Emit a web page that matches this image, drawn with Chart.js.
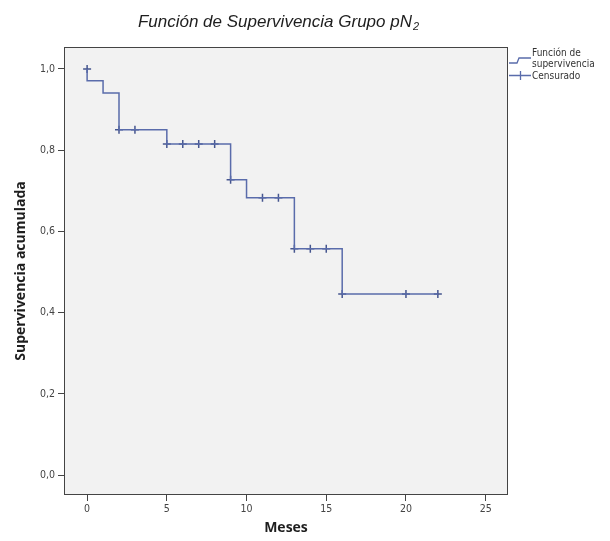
<!DOCTYPE html>
<html lang="es">
<head>
  <meta charset="UTF-8" />
  <title>Función de Supervivencia Grupo pN2</title>
  <script src="https://cdn.jsdelivr.net/npm/chart.js"></script>
  <style>
    html, body { margin: 0; padding: 0; background: #fff; }
    canvas { display: block; }
  </style>
</head>
<body>
  <canvas id="kmChart" width="610" height="541"></canvas>

  <script>
    // Kaplan-Meier step values (time, cumulative survival after the event)
    const stepTimes = [0, 0, 1, 2, 5, 9, 10, 13, 16, 22];
    const stepSurvival = [1.0, 0.971, 0.941, 0.85, 0.815, 0.727, 0.683, 0.557, 0.446, 0.446];

    // censored observations
    const censorTimes = [0, 2, 3, 5, 6, 7, 8, 9, 11, 12, 13, 14, 15, 16, 20, 22];
    const censorSurvival = [1.0, 0.85, 0.85, 0.815, 0.815, 0.815, 0.815, 0.727, 0.683, 0.683, 0.557, 0.557, 0.557, 0.446, 0.446, 0.446];

    const xTicks = [0, 5, 10, 15, 20, 25];
    const yTicks = [0, 0.2, 0.4, 0.6, 0.8, 1.0];

    const lineColor = '#5a6cab';
    const markColor = '#46568f';

    // plot background, frame, title and legend
    const decor = {
      id: 'decor',
      beforeDraw(chart) {
        const { ctx, chartArea: a } = chart;
        ctx.save();
        ctx.fillStyle = '#fff';
        ctx.fillRect(0, 0, chart.width, chart.height);
        ctx.fillStyle = '#f2f2f2';
        ctx.fillRect(a.left, a.top, a.right - a.left, a.bottom - a.top);
        ctx.restore();
      },
      afterDraw(chart) {
        const { ctx, chartArea: a } = chart;
        ctx.save();
        ctx.strokeStyle = '#444';
        ctx.lineWidth = 1;
        ctx.strokeRect(a.left + 0.5, a.top + 0.5, a.right - a.left - 1, a.bottom - a.top - 1);

        // title with subscript
        const main = 'Función de Supervivencia Grupo pN';
        ctx.fillStyle = '#1e1e1e';
        ctx.font = 'italic 17px "Liberation Sans", Arial, sans-serif';
        const w1 = ctx.measureText(main).width;
        ctx.font = 'italic 11px "Liberation Sans", Arial, sans-serif';
        const w2 = ctx.measureText('2').width;
        const x0 = 278 - (w1 + w2) / 2;
        ctx.textBaseline = 'alphabetic';
        ctx.font = 'italic 17px "Liberation Sans", Arial, sans-serif';
        ctx.fillText(main, x0, 27);
        ctx.font = 'italic 11px "Liberation Sans", Arial, sans-serif';
        ctx.fillText('2', x0 + w1 + 1, 30);

        // legend
        ctx.strokeStyle = lineColor;
        ctx.lineWidth = 1.3;
        ctx.beginPath();
        ctx.moveTo(509, 63);
        ctx.lineTo(517, 63);
        ctx.lineTo(519, 58);
        ctx.lineTo(531, 58);
        ctx.stroke();
        ctx.beginPath();
        ctx.moveTo(509, 75.5);
        ctx.lineTo(531, 75.5);
        ctx.moveTo(520.5, 71);
        ctx.lineTo(520.5, 80);
        ctx.stroke();
        ctx.fillStyle = '#333';
        ctx.font = '10px "DejaVu Sans Condensed", "DejaVu Sans", sans-serif';
        ctx.textBaseline = 'middle';
        ctx.fillText('Función de', 532, 53);
        ctx.fillText('supervivencia', 532, 64);
        ctx.fillText('Censurado', 532, 76);
        ctx.restore();
      }
    };

    new Chart(document.getElementById('kmChart'), {
      type: 'line',
      data: {
        datasets: [{
          label: 'Función de supervivencia',
          data: stepTimes.map((t, i) => ({ x: t, y: stepSurvival[i] })),
          stepped: 'before',
          borderColor: lineColor,
          borderWidth: 1.5,
          pointRadius: 0,
          fill: false
        }, {
          label: 'Censurado',
          data: censorTimes.map((t, i) => ({ x: t, y: censorSurvival[i] })),
          showLine: false,
          pointStyle: 'cross',
          pointRadius: 4,
          borderColor: markColor,
          borderWidth: 1.5
        }]
      },
      options: {
        responsive: false,
        animation: false,
        layout: { padding: { top: 47, right: 102, left: 0, bottom: 0 } },
        plugins: {
          legend: { display: false },
          tooltip: { enabled: false }
        },
        scales: {
          x: {
            type: 'linear',
            min: -1.45,
            max: 26.4,
            afterFit: s => { s.height = 46; },
            afterBuildTicks: s => { s.ticks = xTicks.map(v => ({ value: v })); },
            border: { display: false },
            grid: { drawOnChartArea: false, tickLength: 6, tickColor: '#444' },
            ticks: {
              color: '#444',
              font: { family: '"DejaVu Sans Condensed", "DejaVu Sans", sans-serif', size: 10.5 },
              padding: 2,
              maxRotation: 0
            },
            title: {
              display: true,
              text: 'Meses',
              color: '#1e1e1e',
              font: { family: '"Open Sans", sans-serif', size: 14, weight: 'bold' },
              padding: { bottom: 5 }
            }
          },
          y: {
            type: 'linear',
            min: -0.049,
            max: 1.054,
            afterFit: s => { s.width = 64; },
            afterBuildTicks: s => { s.ticks = yTicks.map(v => ({ value: v })); },
            border: { display: false },
            grid: { drawOnChartArea: false, tickLength: 6, tickColor: '#444' },
            ticks: {
              color: '#444',
              font: { family: '"DejaVu Sans Condensed", "DejaVu Sans", sans-serif', size: 10.5 },
              padding: 3,
              callback: v => v.toFixed(1).replace('.', ',')
            },
            title: {
              display: true,
              text: 'Supervivencia acumulada',
              color: '#1e1e1e',
              font: { family: '"Open Sans", sans-serif', size: 14, weight: 'bold' },
              padding: { top: 13 }
            }
          }
        }
      },
      plugins: [decor]
    });
  </script>
</body>
</html>
